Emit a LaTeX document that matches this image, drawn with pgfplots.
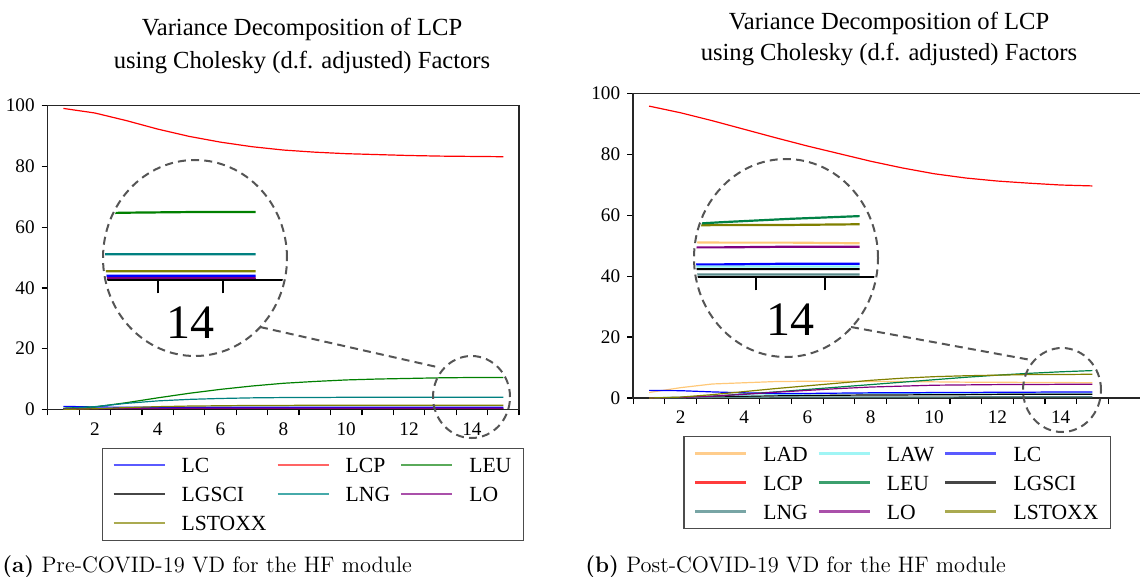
\documentclass[border=0pt]{standalone}
\usepackage{fontspec}
\usepackage{pgfplots}
\usepackage{pgfplotstable}
\pgfplotsset{compat=1.18}
\newfontfamily\tnr{Liberation Serif}

\definecolor{cLC}{RGB}{0,0,255}
\definecolor{cLCP}{RGB}{255,0,0}
\definecolor{cLEUa}{RGB}{0,128,0}
\definecolor{cLGSCI}{RGB}{0,0,0}
\definecolor{cLNGa}{RGB}{0,128,128}
\definecolor{cLO}{RGB}{128,0,128}
\definecolor{cLSTOXX}{RGB}{128,128,0}
\definecolor{cLAD}{RGB}{255,200,120}
\definecolor{cLAW}{RGB}{140,240,240}
\definecolor{cLEUb}{RGB}{0,130,70}
\definecolor{cLNGb}{RGB}{90,140,140}
\definecolor{circ}{RGB}{85,85,85}
% legend sample colours (lighter)
\definecolor{gLC}{RGB}{90,90,255}
\definecolor{gLCP}{RGB}{255,100,100}
\definecolor{gLEUa}{RGB}{90,170,90}
\definecolor{gLGSCI}{RGB}{70,70,70}
\definecolor{gLNGa}{RGB}{70,170,170}
\definecolor{gLO}{RGB}{170,80,170}
\definecolor{gLSTOXX}{RGB}{170,170,80}
\definecolor{gLAD}{RGB}{255,205,140}
\definecolor{gLAW}{RGB}{160,245,245}
\definecolor{gLCPb}{RGB}{255,60,60}
\definecolor{gLEUb}{RGB}{60,160,110}
\definecolor{gLNGb}{RGB}{120,165,165}

\pgfplotstableread{
x LC LCP LEU LGSCI LNG LO LSTOXX
1 1.0 99.1 0.4 0.1 0.3 0.1 0.0
2 0.8 97.6 0.8 0.1 0.9 0.2 0.2
3 0.7 95.1 2.2 0.2 2.0 0.3 0.6
4 0.7 92.3 3.8 0.2 2.8 0.3 0.9
5 0.7 89.9 5.3 0.2 3.3 0.4 1.1
6 0.7 88.0 6.6 0.2 3.6 0.4 1.2
7 0.7 86.5 7.7 0.2 3.8 0.4 1.3
8 0.7 85.4 8.6 0.2 3.9 0.4 1.3
9 0.7 84.7 9.2 0.2 3.9 0.4 1.4
10 0.7 84.2 9.7 0.2 4.0 0.4 1.4
11 0.7 83.9 10.0 0.2 4.0 0.4 1.4
12 0.7 83.6 10.2 0.2 4.0 0.4 1.4
13 0.7 83.4 10.4 0.2 4.0 0.4 1.4
14 0.7 83.3 10.5 0.2 4.0 0.4 1.4
15 0.7 83.2 10.5 0.2 4.0 0.4 1.4
}\pre

\pgfplotstableread{
x LAD LAW LC LCP LEU LGSCI LNG LO LSTOXX
1 1.8 0.1 2.5 95.8 0.0 0.0 0.0 0.0 0.0
2 3.4 0.3 2.4 93.6 0.1 0.1 0.1 0.2 0.3
3 4.6 0.6 2.0 91.0 0.6 0.3 0.2 0.6 1.1
4 5.0 0.9 1.7 88.2 1.3 0.5 0.2 1.2 2.1
5 5.4 1.1 1.5 85.4 2.0 0.7 0.3 1.9 3.1
6 5.5 1.3 1.5 82.7 2.8 0.8 0.3 2.5 4.0
7 5.5 1.4 1.6 80.2 3.6 0.9 0.3 3.1 4.9
8 5.4 1.5 1.7 77.7 4.4 1.0 0.3 3.6 5.8
9 5.4 1.5 1.7 75.5 5.2 1.0 0.3 3.9 6.5
10 5.3 1.6 1.8 73.6 6.0 1.1 0.3 4.2 7.0
11 5.2 1.6 1.8 72.2 6.8 1.1 0.4 4.3 7.3
12 5.2 1.6 1.9 71.2 7.5 1.2 0.4 4.4 7.5
13 5.1 1.6 1.9 70.5 8.1 1.2 0.4 4.4 7.7
14 5.1 1.6 2.0 69.9 8.6 1.2 0.4 4.5 7.7
15 5.0 1.6 2.0 69.6 9.0 1.2 0.4 4.5 7.8
}\post

\pgfplotsset{
  vd/.style={
    scale only axis, xmin=0.5, ymin=0, ymax=100,
    xtick={2,4,...,14}, minor xtick={0.5,1.5,...,15.5},
    ytick={0,20,...,100},
    tick align=outside, xtick pos=left, ytick pos=left,
    tick style={black, line width=0.6pt},
    major x tick style={draw=none},
    minor tick style={black, line width=0.6pt},
    major tick length=3pt, minor tick length=3pt,
    axis line style={black!85, line width=0.75pt},
    ticklabel style={font=\tnr\fontsize{9.6}{10}\selectfont},
    /pgf/number format/assume math mode=true,
    legend columns=3,
    legend cell align=left,
    legend image code/.code={\draw[line width=1.1pt, ##1] (0pt,0pt) -- (25.5pt,0pt);},
    legend style={draw=black!70, line width=0.8pt, fill=white,
       font=\tnr\fontsize{10.8}{12}\selectfont,
       inner xsep=5pt, inner ysep=3.7pt, row sep=4.9pt,
       nodes={inner sep=1pt, text height=7.6pt, text depth=0pt},
       /tikz/every even column/.append style={column sep=4pt},
       /tikz/every odd column/.append style={column sep=7pt},
       anchor=north west},
    every axis plot/.append style={line width=0.6pt},
  },
  inset/.style={
    scale only axis, xmin=12.5, xmax=15.5, ymin=0, ymax=12,
    axis x line*=bottom, axis y line=none,
    xtick={12.5,13.5,14.5,15.5}, xticklabels={},
    extra x ticks={14}, extra x tick labels={14},
    extra x tick style={major tick length=0pt, ticklabel style={font=\tnr\fontsize{24}{24}\selectfont, yshift=-9.5pt}},
    tick align=outside, major tick length=6.5pt,
    tick style={black, line width=1pt},
    axis line style={black, line width=1pt},
    every axis plot/.append style={line width=1.1pt},
  },
}

\begin{document}
\begin{tikzpicture}
\begin{scope}[x=0.5pt,y=-0.5pt]
  \coordinate (LA) at (47.7,409.4);
  \coordinate (RA) at (633.2,398);
  \coordinate (LI) at (93,280.3);
  \coordinate (RI) at (686.4,277.3);
  \coordinate (LIc) at (195,258);
  \coordinate (RIc) at (786,258);
  \coordinate (LSc) at (471.5,397);
  \coordinate (RSc) at (1062,390);
  \coordinate (LC1) at (260,327); \coordinate (LC2) at (437,367);
  \coordinate (RC1) at (851,327); \coordinate (RC2) at (1031,360);
  \node[font=\tnr\fontsize{12.3}{14}\selectfont, anchor=base, inner sep=0] at (302,36) {Variance Decomposition of LCP};
  \node[font=\tnr\fontsize{12.3}{14}\selectfont, anchor=base, inner sep=0] at (302,68.3) {using Cholesky (d.f. adjusted) Factors};
  \node[font=\tnr\fontsize{12.3}{14}\selectfont, anchor=base, inner sep=0] at (889,29.3) {Variance Decomposition of LCP};
  \node[font=\tnr\fontsize{12.3}{14}\selectfont, anchor=base, inner sep=0] at (889,61) {using Cholesky (d.f. adjusted) Factors};
  \node[anchor=base west, inner sep=0, font=\fontsize{11.2}{13}\selectfont] at (2,572) {\textbf{(a)}\ Pre-COVID-19 VD for the HF module};
  \node[anchor=base west, inner sep=0, font=\fontsize{11.2}{13}\selectfont] at (585,572) {\textbf{(b)}\ Post-COVID-19 VD for the HF module};
\end{scope}

% ---------- left main axis ----------
\begin{axis}[vd, at={(LA)}, anchor=south west, width=235.65pt, height=151.85pt, xmax=15.5,
  legend style={at={(0.1146,-0.1257)}}]
\addplot[cLC, forget plot] table[x=x,y=LC]{\pre};
\addplot[cLCP, forget plot] table[x=x,y=LCP]{\pre};
\addplot[cLEUa, forget plot] table[x=x,y=LEU]{\pre};
\addplot[cLGSCI, forget plot] table[x=x,y=LGSCI]{\pre};
\addplot[cLNGa, forget plot] table[x=x,y=LNG]{\pre};
\addplot[cLO, forget plot] table[x=x,y=LO]{\pre};
\addplot[cLSTOXX, forget plot] table[x=x,y=LSTOXX]{\pre};
\addlegendimage{draw=gLC} \addlegendentry{LC}
\addlegendimage{draw=gLCP} \addlegendentry{LCP}
\addlegendimage{draw=gLEUa} \addlegendentry{LEU}
\addlegendimage{draw=gLGSCI} \addlegendentry{LGSCI}
\addlegendimage{draw=gLNGa} \addlegendentry{LNG}
\addlegendimage{draw=gLO} \addlegendentry{LO}
\addlegendimage{draw=gLSTOXX} \addlegendentry{LSTOXX}
\end{axis}

% ---------- right main axis (right spine just beyond the page edge) ----------
\begin{axis}[vd, at={(RA)}, anchor=south west, width=254.4pt, height=152.35pt, xmax=16.566,
  legend style={at={(0.0985,-0.1237)}}]
\addplot[cLAD, forget plot] table[x=x,y=LAD]{\post};
\addplot[cLAW, forget plot] table[x=x,y=LAW]{\post};
\addplot[cLC, forget plot] table[x=x,y=LC]{\post};
\addplot[cLCP, forget plot] table[x=x,y=LCP]{\post};
\addplot[cLEUb, forget plot] table[x=x,y=LEU]{\post};
\addplot[cLGSCI, forget plot] table[x=x,y=LGSCI]{\post};
\addplot[cLNGb, forget plot] table[x=x,y=LNG]{\post};
\addplot[cLO, forget plot] table[x=x,y=LO]{\post};
\addplot[cLSTOXX, forget plot] table[x=x,y=LSTOXX]{\post};
\addlegendimage{draw=gLAD} \addlegendentry{LAD}
\addlegendimage{draw=gLAW} \addlegendentry{LAW}
\addlegendimage{draw=gLC} \addlegendentry{LC}
\addlegendimage{draw=gLCPb} \addlegendentry{LCP}
\addlegendimage{draw=gLEUb} \addlegendentry{LEU}
\addlegendimage{draw=gLGSCI} \addlegendentry{LGSCI}
\addlegendimage{draw=gLNGb} \addlegendentry{LNG}
\addlegendimage{draw=gLO} \addlegendentry{LO}
\addlegendimage{draw=gLSTOXX} \addlegendentry{LSTOXX}
\end{axis}

% ---------- left inset ----------
\fill[white] (LIc) ellipse [x radius=45pt, y radius=48pt];
\begin{scope}
\clip (LIc) ellipse [x radius=45pt, y radius=48pt];
\begin{axis}[inset, at={(LI)}, anchor=south west, width=97.5pt, height=39pt]
\addplot[cLGSCI] table[x=x,y=LGSCI]{\pre};
\addplot[cLO] table[x=x,y=LO]{\pre};
\addplot[cLC] table[x=x,y=LC]{\pre};
\addplot[cLSTOXX] table[x=x,y=LSTOXX]{\pre};
\addplot[cLNGa] table[x=x,y=LNG]{\pre};
\addplot[cLEUa] table[x=x,y=LEU]{\pre};
\end{axis}
\end{scope}

% ---------- right inset ----------
\fill[white] (RIc) ellipse [x radius=45pt, y radius=48.5pt];
\begin{scope}
\clip (RIc) ellipse [x radius=45pt, y radius=48.5pt];
\begin{axis}[inset, at={(RI)}, anchor=south west, width=103.95pt, height=40.8pt]
\addplot[cLNGb] table[x=x,y=LNG]{\post};
\addplot[cLGSCI] table[x=x,y=LGSCI]{\post};
\addplot[cLAW] table[x=x,y=LAW]{\post};
\addplot[cLC] table[x=x,y=LC]{\post};
\addplot[cLO] table[x=x,y=LO]{\post};
\addplot[cLAD] table[x=x,y=LAD]{\post};
\addplot[cLSTOXX] table[x=x,y=LSTOXX]{\post};
\addplot[cLEUb] table[x=x,y=LEU]{\post};
\end{axis}
\end{scope}

% ---------- magnifier decorations ----------
\begin{scope}[circ, line width=1pt, dash pattern=on 4pt off 2.6pt]
\draw (LIc) ellipse [x radius=46pt, y radius=49pt];
\draw (RIc) ellipse [x radius=46pt, y radius=49.5pt];
\draw (LSc) ellipse [x radius=19.25pt, y radius=20.5pt];
\draw (RSc) ellipse [x radius=19.5pt, y radius=21pt];
\draw (LC1) -- (LC2);
\draw (RC1) -- (RC2);
\end{scope}

\pgfresetboundingbox
\path[use as bounding box] (0,0) rectangle (570pt,-288.5pt);
\end{tikzpicture}
\end{document}
